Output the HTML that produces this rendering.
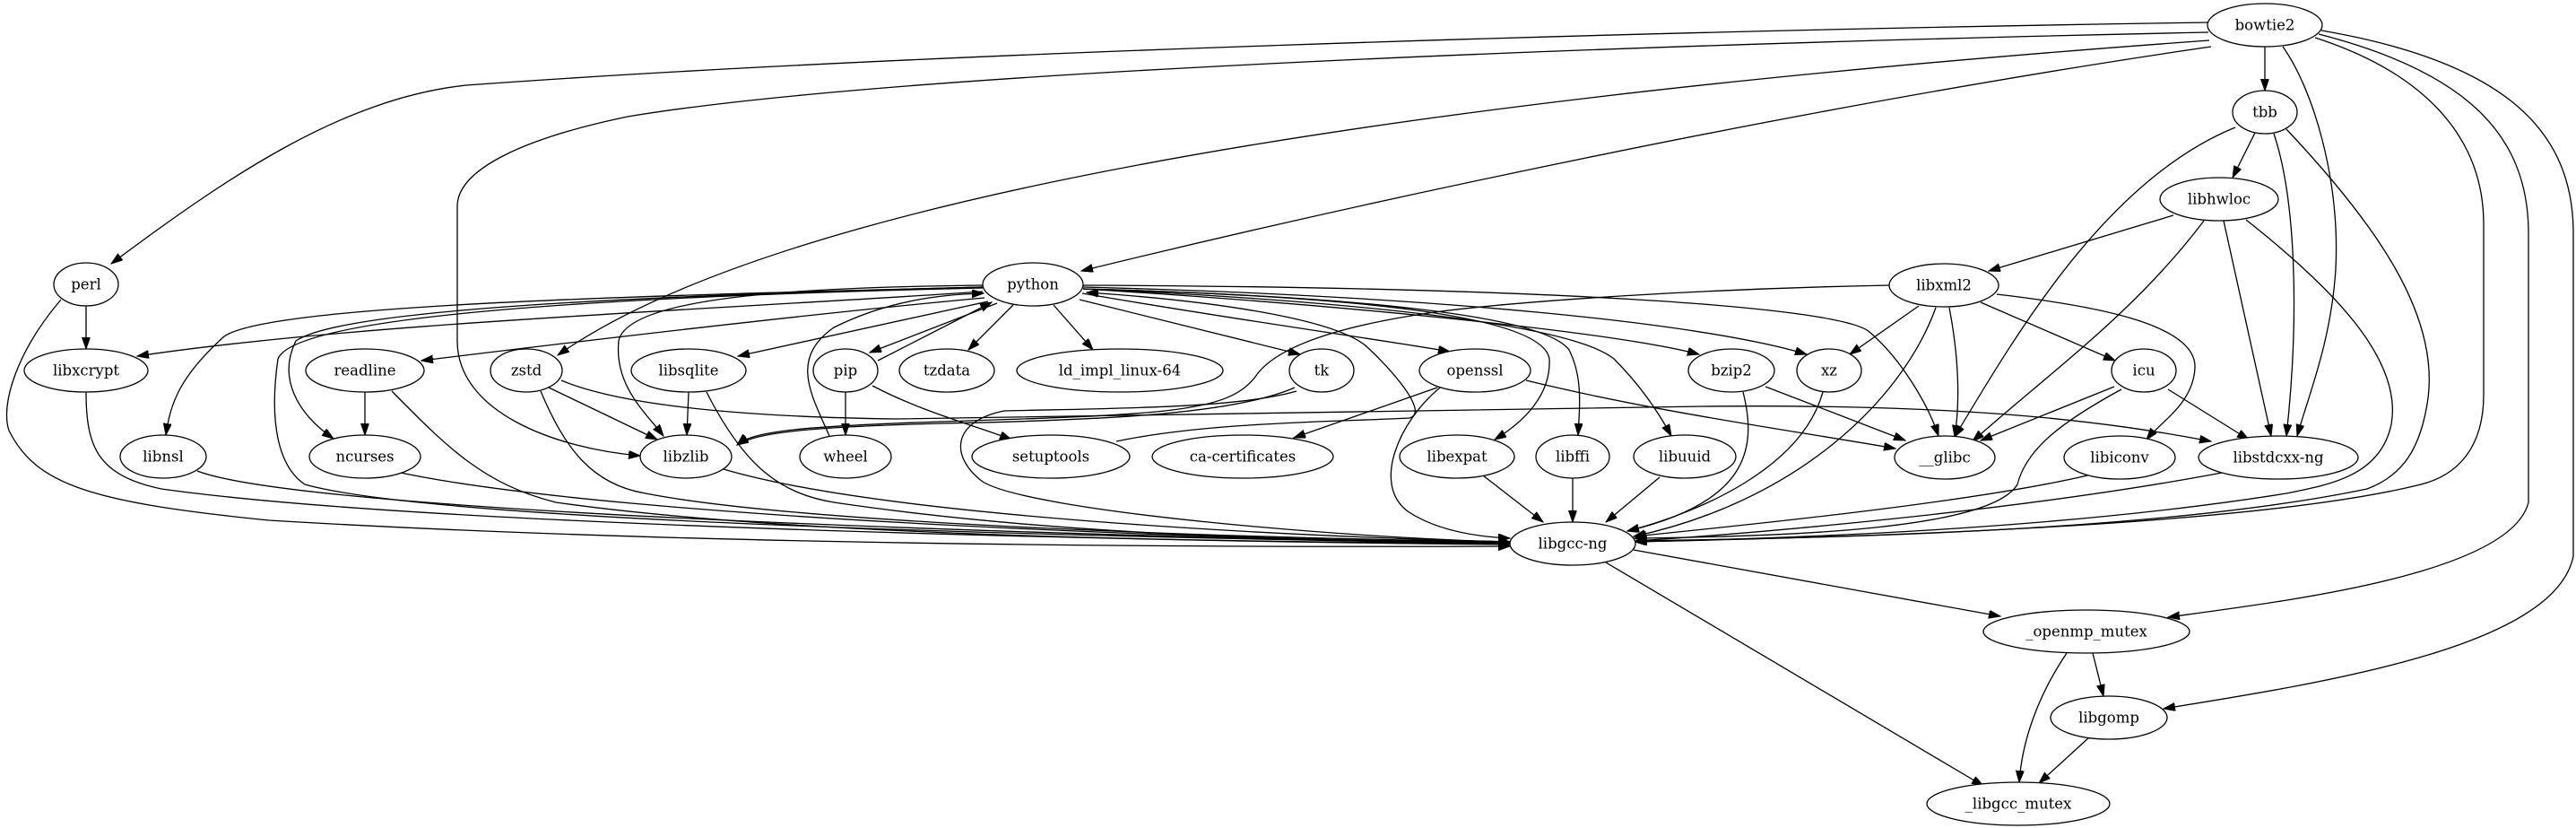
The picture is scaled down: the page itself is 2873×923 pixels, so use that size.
<!DOCTYPE html>
<html><head><meta charset="utf-8"><style>
html,body{margin:0;padding:0;background:#fff;}
svg{display:block;}
text{font-family:"DejaVu Serif","Liberation Serif",serif;font-size:16.5px;fill:#000;text-anchor:middle;dominant-baseline:central;}
ellipse{fill:#fff;stroke:#000;stroke-width:1.3;}
path{fill:none;stroke:#000;stroke-width:1.3;}
</style></head><body>
<svg width="2873" height="923" viewBox="0 0 2873 923" xmlns="http://www.w3.org/2000/svg">
<defs><marker id="a" markerUnits="userSpaceOnUse" markerWidth="14" markerHeight="10" refX="13" refY="4.5" orient="auto"><path d="M0,0 L13,4.5 L0,9 z" style="fill:#000;stroke:#000;stroke-width:1"/></marker></defs>
<g marker-end="url(#a)">
<path d="M2463,25 C1800,35 1000,60 520,95 C380,110 250,200 124,294"/>
<path d="M2463,36 C1800,50 1000,80 700,130 C580,155 510,190 510,230 L510,380 C510,460 620,500 714,508"/>
<path d="M2464,45 C1700,100 900,200 622,396"/>
<path d="M2466,52 C2000,120 1500,230 1206,302"/>
<path d="M2526,52 L2526,101"/>
<path d="M2546,52 C2580,100 2610,200 2605,300 C2600,380 2575,440 2562,486"/>
<path d="M2582,42 C2700,80 2770,150 2770,250 L2770,440 C2770,500 2740,530 2700,540 C2500,590 2000,600 1824,604"/>
<path d="M2586,38 C2750,80 2820,150 2820,260 L2820,560 C2800,640 2550,670 2418,688"/>
<path d="M2589,34 C2800,70 2870,150 2870,260 L2870,620 C2850,720 2600,760 2413,790"/>
<path d="M2515,148 L2490,198"/>
<path d="M2493,142 C2350,200 2250,370 2180,487"/>
<path d="M2536,149 C2560,220 2565,350 2550,486"/>
<path d="M2550,144 C2650,250 2720,350 2708,444 C2700,500 2680,530 2640,545 C2400,595 2000,600 1824,603"/>
<path d="M2424,240 L2218,302"/>
<path d="M2458,246 C2380,350 2280,420 2200,492"/>
<path d="M2480,246 L2533,486"/>
<path d="M2505,245 C2600,320 2680,400 2667,473 C2655,530 2600,540 2550,550 C2300,590 2000,600 1824,604"/>
<path d="M2107,318 C1900,322 1700,335 1600,348 C1480,365 1420,390 1400,420 C1370,460 1300,462 1050,470 C900,475 840,480 822,496"/>
<path d="M2140,341 L2063,395"/>
<path d="M2174,343 C2185,400 2186,450 2180,487"/>
<path d="M2209,337 L2359,402"/>
<path d="M2227,328 C2330,340 2450,360 2448,410 C2446,450 2410,470 2394,490"/>
<path d="M2159,343 C2120,450 2000,560 1822,598"/>
<path d="M2358,431 L2209,491"/>
<path d="M2418,434 L2508,490"/>
<path d="M2366,434 C2300,470 2260,500 2250,540 C2220,590 2000,598 1823,600"/>
<path d="M2328,530 C2200,560 1950,585 1823,598"/>
<path d="M2478,527 C2250,570 1950,595 1824,603"/>
<path d="M2033,437 C2010,520 1900,570 1815,592"/>
<path d="M1969,431 L2125,491"/>
<path d="M1944,437 C1960,500 1950,560 1815,592"/>
<path d="M1603,432 L1443,488"/>
<path d="M1702,424 C1850,460 2000,480 2114,500"/>
<path d="M1606,432 C1560,470 1530,540 1570,570 C1600,590 1640,598 1684,600"/>
<path d="M612,432 L733,490"/>
<path d="M626,424 C700,455 850,465 1000,467 L1900,453 C2200,450 2350,470 2466,492"/>
<path d="M603,436 C630,500 660,540 720,550 C900,585 1400,600 1684,604"/>
<path d="M1444,432 C1380,460 1250,468 1050,472 C900,476 845,482 822,496"/>
<path d="M1446,436 C1380,455 1250,455 1120,458 C1060,470 1060,510 1096,537 C1150,570 1500,600 1684,604"/>
<path d="M1245,492 C1350,470 1500,470 1572,466 C1595,460 1550,410 1525,387 C1490,355 1350,335 1212,326"/>
<path d="M768,437 L766,485"/>
<path d="M788,437 C830,520 870,550 930,560 C1200,600 1500,603 1684,604"/>
<path d="M407,437 L407,485"/>
<path d="M437,436 C500,500 540,540 620,560 C900,600 1400,604 1684,606"/>
<path d="M96,341 L96,389"/>
<path d="M68,334 C20,390 0,450 10,480 C40,540 100,560 300,580 C800,610 1400,610 1684,609"/>
<path d="M96,437 C96,500 110,530 180,545 C500,590 1400,605 1684,607"/>
<path d="M220,525 C350,575 1300,600 1684,606"/>
<path d="M447,527 C700,580 1400,603 1684,605"/>
<path d="M807,523 C1000,580 1500,600 1684,604"/>
<path d="M1654,530 L1721,582"/>
<path d="M1754,533 L1754,582"/>
<path d="M1851,532 L1791,582"/>
<path d="M943,437 L943,485"/>
<path d="M973,430 C1030,460 1090,475 1128,490"/>
<path d="M1112,338 L970,393"/>
<path d="M979,402 L1106,337"/>
<path d="M925,486 C905,440 880,400 930,365 C990,335 1050,328 1097,327"/>
<path d="M1096,325 C800,345 400,360 153,397"/>
<path d="M1096,320 C700,330 300,340 250,375 C200,420 190,450 185,485"/>
<path d="M1096,320 C700,330 380,345 330,380 C310,420 330,460 372,489"/>
<path d="M1096,321 C700,330 330,350 310,400 C300,470 310,520 340,540 C500,585 1300,600 1684,606"/>
<path d="M1098,332 C900,350 650,380 470,402"/>
<path d="M1097,318 C900,320 700,330 690,380 C685,430 720,460 740,486"/>
<path d="M1102,336 L823,397"/>
<path d="M1130,340 L1080,390"/>
<path d="M1175,340 L1219,390"/>
<path d="M1204,334 L1450,395"/>
<path d="M1207,327 C1400,360 1550,380 1617,392"/>
<path d="M1208,322 C1500,340 1800,370 1895,395"/>
<path d="M1208,320 C1600,330 1900,360 2015,395"/>
<path d="M1208,318 C1700,320 2050,340 2085,370 C2120,400 2150,450 2162,486"/>
<path d="M1208,322 C1500,330 1720,350 1728,400 C1730,440 1700,470 1667,490"/>
<path d="M1208,322 C1500,330 1720,350 1750,390 C1765,420 1762,450 1760,485"/>
<path d="M1208,322 C1500,335 1750,360 1800,400 C1830,430 1850,460 1864,486"/>
<path d="M1822,613 L2231,687"/>
<path d="M1791,627 L2212,876"/>
<path d="M2334,728 L2346,776"/>
<path d="M2305,728 C2270,780 2255,830 2252,872"/>
<path d="M2330,822 L2274,873"/>
</g>
<g>
<ellipse cx="2526" cy="28" rx="64" ry="24"/><text x="2526" y="28">bowtie2</text>
<ellipse cx="2526" cy="125" rx="36" ry="24"/><text x="2526" y="125">tbb</text>
<ellipse cx="2475" cy="222" rx="66" ry="24"/><text x="2475" y="222">libhwloc</text>
<ellipse cx="2168" cy="318" rx="61" ry="24"/><text x="2168" y="318">libxml2</text>
<ellipse cx="96" cy="317" rx="36" ry="24"/><text x="96" y="317">perl</text>
<ellipse cx="1152" cy="317" rx="56" ry="24"/><text x="1152" y="317">python</text>
<ellipse cx="96" cy="413" rx="69" ry="24"/><text x="96" y="413">libxcrypt</text>
<ellipse cx="407" cy="413" rx="66" ry="24"/><text x="407" y="413">readline</text>
<ellipse cx="587" cy="413" rx="40" ry="24"/><text x="587" y="413">zstd</text>
<ellipse cx="768" cy="413" rx="64" ry="24"/><text x="768" y="413">libsqlite</text>
<ellipse cx="943" cy="413" rx="36" ry="24"/><text x="943" y="413">pip</text>
<ellipse cx="1056" cy="413" rx="53" ry="24"/><text x="1056" y="413">tzdata</text>
<ellipse cx="1249" cy="413" rx="115" ry="24"/><text x="1249" y="413">ld_impl_linux-64</text>
<ellipse cx="1474" cy="413" rx="36" ry="24"/><text x="1474" y="413">tk</text>
<ellipse cx="1645" cy="413" rx="62" ry="24"/><text x="1645" y="413">openssl</text>
<ellipse cx="1931" cy="413" rx="48" ry="24"/><text x="1931" y="413">bzip2</text>
<ellipse cx="2040" cy="413" rx="36" ry="24"/><text x="2040" y="413">xz</text>
<ellipse cx="2391" cy="413" rx="36" ry="24"/><text x="2391" y="413">icu</text>
<ellipse cx="182" cy="509" rx="48" ry="24"/><text x="182" y="509">libnsl</text>
<ellipse cx="407" cy="509" rx="62" ry="24"/><text x="407" y="509">ncurses</text>
<ellipse cx="765" cy="509" rx="51" ry="24"/><text x="765" y="509">libzlib</text>
<ellipse cx="943" cy="509" rx="51" ry="24"/><text x="943" y="509">wheel</text>
<ellipse cx="1172" cy="509" rx="88" ry="24"/><text x="1172" y="509">setuptools</text>
<ellipse cx="1386" cy="509" rx="101" ry="24"/><text x="1386" y="509">ca-certificates</text>
<ellipse cx="1625" cy="509" rx="64" ry="24"/><text x="1625" y="509">libexpat</text>
<ellipse cx="1754" cy="509" rx="41" ry="24"/><text x="1754" y="509">libffi</text>
<ellipse cx="1879" cy="509" rx="57" ry="24"/><text x="1879" y="509">libuuid</text>
<ellipse cx="2169" cy="510" rx="56" ry="24"/><text x="2169" y="510">__glibc</text>
<ellipse cx="2364" cy="510" rx="62" ry="24"/><text x="2364" y="510">libiconv</text>
<ellipse cx="2541" cy="510" rx="89" ry="24"/><text x="2541" y="510">libstdcxx-ng</text>
<ellipse cx="1754" cy="606" rx="70" ry="24"/><text x="1754" y="606">libgcc-ng</text>
<ellipse cx="2327" cy="704" rx="115" ry="24"/><text x="2327" y="704">_openmp_mutex</text>
<ellipse cx="2352" cy="800" rx="65" ry="24"/><text x="2352" y="800">libgomp</text>
<ellipse cx="2251" cy="896" rx="102" ry="24"/><text x="2251" y="896">_libgcc_mutex</text>
</g>
</svg>
</body></html>
